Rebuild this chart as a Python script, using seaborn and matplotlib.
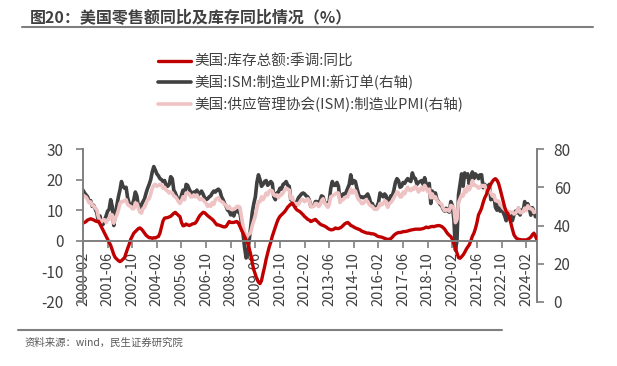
import matplotlib
matplotlib.use("Agg")
import matplotlib.pyplot as plt
from matplotlib.lines import Line2D
import seaborn as sns
import pandas as pd

# monthly, 2000-02 .. 2024-09
months = pd.date_range("2000-02-01", "2024-09-01", freq="MS")

# 美国:库存总额:季调:同比 (%), left axis
inventory_yoy = [
    5.8, 6.0, 6.3, 6.8, 7.0, 7.2, 7.0, 6.8, 6.5, 6.3, 6.4,
    5.5, 4.5, 3.5, 2.5, 1.5, 0.5, -0.5, -1.5, -3.0, -4.5, -5.5, -6.0,
    -6.5, -6.8, -6.5, -6.0, -5.5, -4.0, -2.5, -1.2, 0.5, 1.5, 2.5, 3.0,
    3.5, 4.0, 4.2, 3.8, 3.2, 2.5, 1.8, 1.4, 1.0, 1.0, 0.8, 1.0,
    0.9, 1.2, 1.4, 2.5, 4.5, 6.5, 7.4, 7.5, 7.6, 7.8, 8.0, 8.5,
    9.0, 9.3, 8.8, 8.3, 7.9, 6.0, 4.9, 5.0, 5.5, 5.2, 5.0, 5.2,
    5.5, 5.6, 5.8, 6.5, 7.5, 8.3, 8.8, 9.3, 9.2, 8.7, 8.2, 7.8,
    7.4, 7.0, 6.5, 5.8, 5.2, 5.2, 5.0, 4.8, 4.6, 4.5, 4.7, 5.5,
    6.3, 6.0, 6.0, 6.0, 6.2, 6.3, 5.8, 4.7, 3.5, 2.5, 1.4, 0.3,
    -0.8, -2.5, -4.5, -7.3, -9.5, -11.0, -12.5, -13.5, -14.0, -13.0, -10.6, -8.5,
    -6.0, -4.0, -2.0, -0.5, 1.5, 3.0, 4.5, 6.0, 7.2, 8.0, 8.5, 9.0,
    9.5, 10.2, 11.0, 11.5, 12.0, 12.3, 11.5, 10.7, 10.1, 9.8, 9.5, 9.0,
    8.5, 7.9, 7.5, 7.0, 6.8, 6.3, 6.5, 6.8, 7.0, 6.5, 6.0, 5.5,
    5.2, 5.0, 4.8, 4.5, 4.1, 3.8, 3.6, 3.6, 3.8, 4.2, 4.0, 4.0,
    4.2, 4.5, 5.0, 5.5, 5.8, 6.0, 5.6, 5.0, 4.8, 4.5, 4.2, 4.0,
    3.8, 3.6, 3.2, 3.0, 2.8, 2.6, 2.5, 2.5, 2.3, 2.3, 2.2, 2.0,
    1.6, 1.4, 1.3, 1.2, 1.0, 0.8, 0.6, 0.5, 0.5, 0.7, 1.2, 1.8,
    2.2, 2.5, 2.7, 2.7, 2.8, 3.0, 3.0, 3.1, 3.2, 3.4, 3.5, 3.6,
    3.7, 3.8, 3.8, 3.8, 3.8, 3.9, 4.0, 4.2, 4.5, 4.3, 4.4, 4.6,
    4.7, 4.6, 4.8, 4.9, 5.0, 4.9, 4.7, 4.3, 3.8, 3.0, 2.3, 1.8,
    1.4, 0.5, -1.0, -2.4, -4.0, -5.5, -5.7, -5.2, -4.6, -3.8, -2.8, -2.0,
    -1.3, 0.0, 1.5, 2.5, 4.0, 6.0, 8.5, 9.5, 10.7, 12.5, 14.0, 15.0,
    16.5, 17.5, 18.5, 19.4, 20.0, 20.3, 19.8, 18.8, 17.0, 15.0, 13.0, 11.0,
    9.5, 9.0, 7.5, 5.8, 3.8, 2.0, 1.2, 0.7, 0.5, 0.4, 0.3, 0.3,
    0.3, 0.3, 0.5, 0.8, 1.2, 2.0, 2.5, 1.5, 0.3,
]

# 美国:ISM:制造业PMI:新订单, right axis
new_orders = [
    58.5, 57.0, 56.0, 55.0, 52.5, 53.0, 50.0, 50.5, 48.5, 46.5, 42.0,
    45.0, 41.5, 40.5, 43.0, 45.0, 47.5, 48.5, 53.5, 50.0, 40.0, 46.0, 50.5,
    55.0, 58.5, 63.0, 60.5, 59.5, 60.0, 54.5, 51.5, 51.0, 50.5, 53.5, 57.5,
    55.5, 50.0, 48.0, 51.0, 52.5, 54.0, 57.0, 59.5, 61.5, 64.0, 68.0, 70.8,
    69.0, 67.0, 66.0, 64.5, 64.0, 63.0, 63.5, 61.0, 60.5, 61.5, 65.5, 64.5,
    58.5, 57.0, 55.0, 53.5, 52.5, 56.0, 58.5, 55.5, 61.5, 61.0, 59.0, 57.5,
    56.5, 57.5, 57.0, 58.5, 56.0, 57.0, 58.0, 56.5, 54.5, 53.5, 54.0, 55.0,
    55.5, 57.0, 58.0, 57.5, 58.5, 59.0, 58.0, 55.0, 53.5, 51.5, 50.0, 48.0,
    47.5, 45.5, 46.5, 45.0, 47.5, 48.0, 47.0, 46.5, 41.0, 35.5, 28.5, 23.0,
    25.0, 32.5, 40.0, 47.0, 51.5, 55.0, 62.5, 66.5, 64.0, 60.5, 61.5, 63.0,
    63.5, 61.0, 62.0, 63.0, 62.0, 55.0, 53.5, 57.0, 57.5, 59.5, 59.0, 61.5,
    62.0, 63.0, 61.0, 60.5, 53.5, 53.0, 51.0, 50.0, 52.5, 54.5, 55.5, 56.5,
    57.0, 56.5, 55.5, 55.0, 53.5, 50.0, 50.0, 50.5, 52.5, 52.5, 51.5, 53.0,
    55.5, 55.0, 52.0, 51.5, 50.0, 53.0, 59.5, 63.0, 61.0, 61.0, 62.5, 60.5,
    53.0, 55.5, 56.5, 56.0, 57.5, 59.5, 61.5, 66.5, 62.0, 63.5, 63.0, 59.5,
    56.5, 54.5, 55.0, 54.5, 55.0, 55.5, 56.5, 54.5, 51.5, 51.5, 49.5, 48.5,
    50.0, 52.0, 57.0, 56.0, 55.0, 56.5, 55.5, 50.0, 53.5, 55.5, 55.5, 58.5,
    62.5, 64.5, 63.5, 60.0, 60.5, 62.5, 62.0, 63.5, 64.5, 63.5, 63.0, 67.5,
    65.0, 64.5, 61.5, 62.5, 63.0, 63.5, 61.5, 65.0, 61.5, 58.5, 62.0, 51.5,
    58.0, 55.5, 57.0, 53.5, 52.5, 51.0, 50.5, 48.5, 47.5, 49.0, 47.5, 47.0,
    52.5, 50.5, 43.0, 27.1, 32.0, 56.0, 61.5, 67.0, 60.5, 67.5, 65.5, 67.0,
    61.5, 64.5, 68.0, 64.5, 67.0, 66.0, 64.5, 66.5, 66.5, 59.8, 61.5, 60.5,
    57.5, 61.5, 53.5, 54.0, 55.5, 49.5, 48.0, 51.5, 47.5, 49.0, 47.0, 45.0,
    42.5, 47.0, 44.5, 45.5, 42.5, 45.5, 47.5, 46.5, 49.0, 45.5, 48.0, 47.5,
    52.5, 49.2, 51.4, 49.1, 45.4, 49.3, 47.4, 44.6, 46.1,
]

# 美国:供应管理协会(ISM):制造业PMI, right axis
pmi = [
    56.0, 55.3, 54.8, 53.5, 51.8, 52.3, 50.5, 50.2, 49.0, 48.2, 44.5,
    42.5, 41.9, 43.0, 43.0, 41.5, 43.0, 43.3, 45.8, 45.5, 41.2, 43.8, 45.5,
    48.0, 51.5, 52.5, 52.5, 53.0, 53.5, 51.0, 50.3, 50.0, 48.8, 48.8, 51.8,
    51.5, 49.0, 47.0, 46.5, 49.0, 49.5, 51.5, 53.5, 54.0, 56.5, 59.5, 61.0,
    61.5, 60.5, 61.0, 61.5, 61.0, 59.5, 60.0, 58.5, 58.0, 57.0, 57.5, 57.0,
    55.5, 55.0, 54.0, 52.5, 51.5, 53.0, 55.0, 53.5, 57.0, 57.0, 56.5, 55.0,
    55.0, 56.0, 55.0, 56.0, 54.5, 53.5, 54.0, 53.5, 52.5, 51.5, 50.0, 51.0,
    50.0, 52.0, 51.0, 53.5, 54.0, 54.5, 53.0, 52.5, 52.0, 51.0, 50.5, 49.0,
    50.0, 48.5, 48.5, 48.5, 49.0, 50.0, 50.0, 49.5, 44.5, 39.5, 36.5, 33.0,
    35.0, 35.5, 36.5, 40.0, 42.5, 45.0, 49.0, 52.5, 52.5, 55.0, 53.5, 55.0,
    57.0, 56.0, 58.0, 58.5, 58.0, 56.0, 55.5, 56.0, 54.5, 56.0, 56.0, 57.0,
    58.5, 59.5, 59.0, 58.5, 54.0, 55.0, 51.5, 51.0, 51.5, 51.0, 52.5, 53.5,
    53.5, 52.5, 53.0, 54.0, 53.0, 50.0, 50.0, 50.0, 51.5, 51.5, 50.0, 50.5,
    53.0, 54.0, 51.5, 51.0, 49.5, 51.0, 55.0, 55.5, 56.0, 56.5, 57.0, 57.0,
    52.0, 53.5, 53.5, 54.5, 55.0, 55.0, 57.0, 59.0, 57.0, 58.5, 58.0, 55.5,
    53.5, 53.0, 51.5, 51.5, 52.5, 53.5, 52.5, 51.0, 50.2, 50.0, 48.8, 48.5,
    48.5, 49.5, 51.5, 50.8, 51.3, 53.0, 52.5, 49.5, 51.5, 52.0, 53.0, 54.5,
    56.0, 57.5, 57.0, 55.0, 55.0, 57.5, 56.5, 58.5, 60.0, 58.5, 58.2, 59.5,
    59.0, 60.5, 59.5, 57.5, 58.5, 60.0, 58.5, 61.0, 59.5, 57.7, 59.0, 54.5,
    56.5, 54.2, 55.0, 53.0, 52.2, 51.7, 51.2, 49.1, 47.8, 48.3, 48.1, 47.5,
    50.5, 50.1, 49.0, 41.5, 43.1, 52.0, 54.0, 56.0, 55.4, 59.0, 57.5, 60.5,
    58.7, 60.5, 63.5, 61.0, 61.0, 60.5, 59.5, 59.9, 61.0, 60.5, 61.0, 58.8,
    57.6, 58.6, 57.1, 55.4, 56.1, 53.0, 52.8, 52.8, 50.9, 50.2, 49.0, 48.4,
    47.4, 47.7, 46.3, 47.1, 46.9, 46.0, 46.4, 47.6, 49.0, 46.7, 46.7, 47.4,
    49.1, 47.8, 50.3, 49.2, 48.7, 48.5, 46.8, 47.2, 47.2,
]

labels = ["美国:库存总额:季调:同比",
          "美国:ISM:制造业PMI:新订单(右轴)",
          "美国:供应管理协会(ISM):制造业PMI(右轴)"]

df = pd.DataFrame({"t": range(len(months)), "inv": inventory_yoy,
                   "no": new_orders, "pmi": pmi})

sns.set_style("white")
plt.rcParams["font.family"] = ["Noto Sans CJK SC", "DejaVu Sans"]
plt.rcParams["axes.unicode_minus"] = False

txt = "#404040"
spine_c = "#7f7f7f"
red, dark, pink = "#C00000", "#404040", "#EFC3C3"

fig = plt.figure(figsize=(6.17, 3.66), dpi=100)
ax = fig.add_axes([83 / 617, 1 - 302 / 366, 454 / 617, 153 / 366])
ax2 = ax.twinx()

sns.lineplot(data=df, x="t", y="no", ax=ax2, color=dark, lw=2.6, legend=False)
sns.lineplot(data=df, x="t", y="pmi", ax=ax2, color=pink, lw=2.6, legend=False)
sns.lineplot(data=df, x="t", y="inv", ax=ax, color=red, lw=2.4, legend=False)

ax.set_zorder(ax2.get_zorder() + 1)
ax.patch.set_visible(False)

# x axis sits on the zero line (set before tick labels, it resets them)
ax.spines["bottom"].set_position(("data", 0))
ax.spines["top"].set_visible(False)
ax.spines["right"].set_visible(False)
for s in ["top", "bottom", "left"]:
    ax2.spines[s].set_visible(False)
for sp in [ax.spines["left"], ax.spines["bottom"], ax2.spines["right"]]:
    sp.set_color(spine_c)
    sp.set_linewidth(1.4)

ax.set_xlim(0, len(months) - 1)
ax.set_ylim(-20, 30)
ax2.set_ylim(0, 80)
ax.set_yticks([-20, -10, 0, 10, 20, 30])
ax2.set_yticks([0, 20, 40, 60, 80])

ticks = list(range(0, len(months), 16))
ax.set_xticks(ticks)
ax.set_xticklabels([months[i].strftime("%Y-%m") for i in ticks])
ax.set_xlabel("")
ax.set_ylabel("")
ax2.set_ylabel("")

ax.tick_params(axis="y", left=True, length=5, width=1.2, color=spine_c,
               labelsize=11, labelcolor=txt, pad=9)
ax.tick_params(axis="x", bottom=True, length=5, width=1.2, color=spine_c,
               labelsize=10.5, labelcolor=txt, pad=3, labelrotation=90)
ax2.tick_params(axis="y", right=True, length=5, width=1.2, color=spine_c,
                labelsize=11, labelcolor=txt, pad=7)

handles = [Line2D([], [], color=red, lw=2.4),
           Line2D([], [], color=dark, lw=2.6),
           Line2D([], [], color=pink, lw=2.6)]
fig.legend(handles, labels, loc="upper left", bbox_to_anchor=(152 / 617, 1 - 49 / 366),
           frameon=False, fontsize=10.5, handlelength=2.3, handletextpad=0.2,
           labelspacing=0.42, labelcolor=txt, borderaxespad=0)

fig.text(30 / 617, 1 - 17 / 366, "图20：美国零售额同比及库存同比情况（%）",
         fontsize=11.5, fontweight="bold", color=txt, va="center", ha="left")
fig.add_artist(Line2D([22 / 617, 593 / 617], [1 - 27 / 366] * 2,
                      transform=fig.transFigure, color=spine_c, lw=1.5))
fig.add_artist(Line2D([18 / 617, 502 / 617], [1 - 330 / 366] * 2,
                      transform=fig.transFigure, color=spine_c, lw=1.5))
fig.text(25 / 617, 1 - 343 / 366, "资料来源：wind，民生证券研究院",
         fontsize=7.5, color="#595959", va="center", ha="left")

fig.savefig("out.png", dpi=100)
